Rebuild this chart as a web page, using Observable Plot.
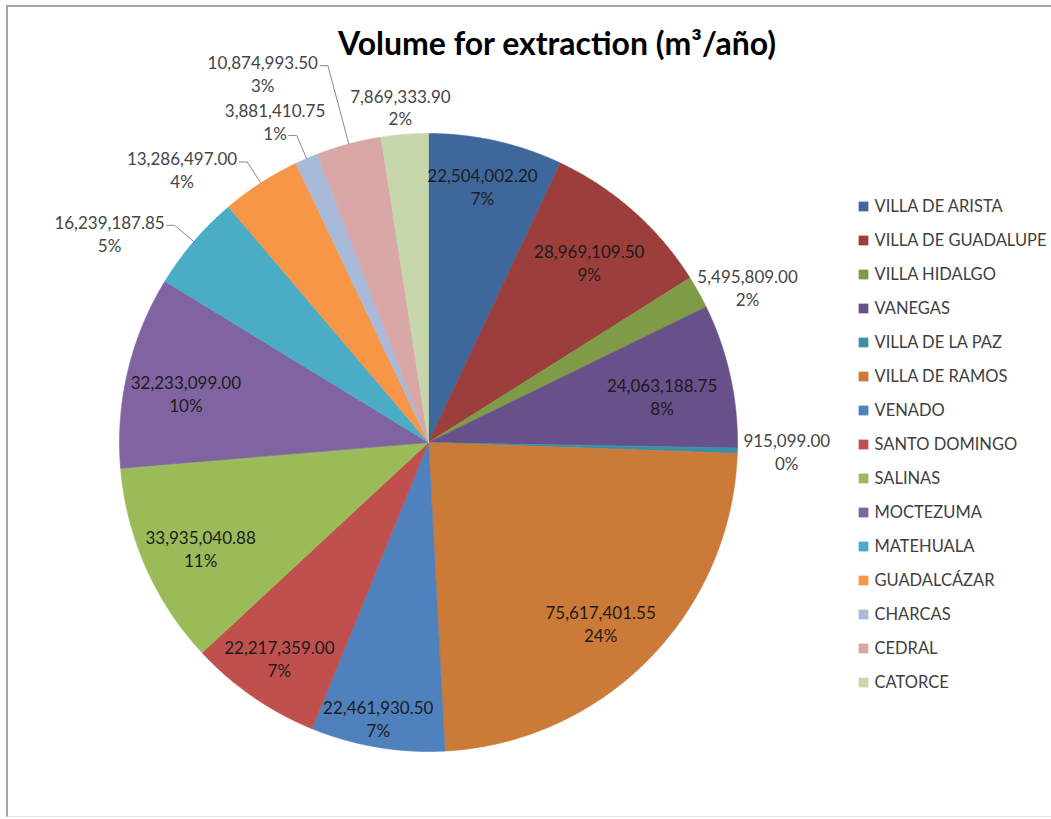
<!DOCTYPE html>
<html>
<head>
<meta charset="utf-8">
<script src="https://cdn.jsdelivr.net/npm/d3@7"></script>
<script src="https://cdn.jsdelivr.net/npm/@observablehq/plot@0.6"></script>
<style>
  body { margin: 0; background: #fff; }
  #chart { position: relative; width: 1051px; height: 819px; overflow: hidden; font-family: Lato, "Open Sans", sans-serif; }
  #frame { position: absolute; left: 6px; top: 5px; width: 1100px; height: 809px;
           border-top: 2px solid #a4a4a4; border-left: 2px solid #a4a4a4; border-bottom: 1px solid #e2e2e2; }
  #title { position: absolute; left: 0; width: 1114px; top: 23px; text-align: center;
           font-weight: bold; font-size: 32px; color: #000; font-family: Lato, sans-serif; }
  #pie, #legend { position: absolute; }
  #pie { left: 0; top: 0; }
  #legend { left: 850px; top: 180px; }
</style>
</head>
<body>
<div id="chart">
  <div id="pie"></div>
  <div id="legend"></div>
  <div id="frame"></div>
  <div id="title">Volume for extraction (m³/año)</div>
</div>
<script>
// Municipalities, in drawing order (clockwise from 12 o'clock)
const municipios = [
  "VILLA DE ARISTA", "VILLA DE GUADALUPE", "VILLA HIDALGO", "VANEGAS",
  "VILLA DE LA PAZ", "VILLA DE RAMOS", "VENADO", "SANTO DOMINGO",
  "SALINAS", "MOCTEZUMA", "MATEHUALA", "GUADALCÁZAR",
  "CHARCAS", "CEDRAL", "CATORCE"
];
// Volume for extraction, m³ per year
const volumenes = [
  22504002.20, 28969109.50, 5495809.00, 24063188.75,
  915099.00, 75617401.55, 22461930.50, 22217359.00,
  33935040.88, 32233099.00, 16239187.85, 13286497.00,
  3881410.75, 10874993.50, 7869333.90
];
const colores = [
  "#3e689c", "#9c3f3c", "#7f9b48", "#68508a", "#3b90a8",
  "#cc7a37", "#4f81bd", "#c0504d", "#9bbb59", "#8064a2",
  "#4bacc6", "#f79646", "#a9bad8", "#d9a7a6", "#c6d7ac"
];

// Layout of the pie on the page (pixels)
const CX = 428, CY = 442, R = 309;
const FS = 17, LINE = 23, HALF_H = 22;

const total = d3.sum(volumenes);
const fmt = d3.format(",.2f");
const arcs = d3.pie().sort(null).value(d => d)(volumenes);

// Wedge outlines in unit-circle coordinates
const wedges = arcs.flatMap((a, i) => {
  const n = Math.max(2, Math.ceil((a.endAngle - a.startAngle) / 0.004));
  const pts = [{name: municipios[i], x: 0, y: 0}];
  for (let k = 0; k <= n; k++) {
    const t = a.startAngle + (a.endAngle - a.startAngle) * k / n;
    pts.push({name: municipios[i], x: Math.sin(t), y: Math.cos(t)});
  }
  pts.push({name: municipios[i], x: 0, y: 0});
  return pts;
});

// Label text measurement
const ctx = document.createElement("canvas").getContext("2d");
ctx.font = `${FS}px Lato`;

const labels = arcs.map((a, i) => {
  const mid = (a.startAngle + a.endAngle) / 2;
  const val = fmt(volumenes[i]);
  const pct = Math.round(volumenes[i] / total * 100) + "%";
  return {
    i, name: municipios[i], mid, s: Math.sin(mid), c: Math.cos(mid),
    val, pct, share: volumenes[i] / total,
    wv: ctx.measureText(val).width, wp: ctx.measureText(pct).width
  };
});

// Positions are in pixels relative to the pie centre, y pointing down
const placed = [];
const leaders = [];
const overlaps = (b) => placed.some(p =>
  Math.abs(p.cx - b.cx) < (p.w + b.w) / 2 + 2 && Math.abs(p.cy - b.cy) < (p.h + b.h) / 2 + 2);

for (const L of labels) {
  if (L.share > 0.06) {
    // inside the slice, pulled in from the rim by the size of the text block
    const d = 6 + Math.abs(L.c) * HALF_H + Math.abs(L.s) * L.wv / 2;
    L.px = L.s * (R - d) - 5; L.py = -L.c * (R - d) + 7; L.inside = true;
  }
}
const outside = labels.filter(L => !L.inside);
// labels that sit next to their slice
for (const L of outside.filter(L => L.s >= -0.2)) {
  const rho = R + 6;
  L.px = L.s * rho + L.s * L.wv / 2;
  L.py = -L.c * rho - Math.pow(L.c, 3) * HALF_H;
  placed.push({cx: L.px, cy: L.py, w: L.wv, h: 2 * HALF_H});
}
// labels to the left, joined to their slice by a leader line
for (const L of outside.filter(L => L.s < -0.2).sort((a, b) => a.mid - b.mid)) {
  const base = R + 25;
  const tries = [["A", base], ["B", base]];
  for (let r = base + 2; r < base + 250; r += 2) tries.push(["A", r]);
  for (const [kind, rho] of tries) {
    const ex = L.s * rho, ey = -L.c * rho;
    const right = ex - 10;
    const box = kind === "A"
      ? {cx: right - L.wv / 2, cy: ey + 7.5}
      : {cx: right - L.wp / 2, cy: ey - 14.5};
    box.w = L.wv; box.h = 2 * HALF_H;
    if (!overlaps(box) || rho >= base + 248) {
      L.px = box.cx; L.py = box.cy;
      placed.push(box);
      const pts = [[L.s * R, -L.c * R], [ex, ey], [ex - 8, ey]];
      pts.forEach(([x, y]) => leaders.push({name: L.name, x: x / R, y: -y / R}));
      break;
    }
  }
}
labels.forEach(L => { L.x = L.px / R; L.y = -L.py / R; L.text = L.val + "\n" + L.pct; });

const pie = Plot.plot({
  width: 1051, height: 819, margin: 0,
  style: {background: "transparent", overflow: "visible"},
  x: {domain: [-1, 1], range: [CX - R, CX + R], axis: null},
  y: {domain: [-1, 1], range: [CY + R, CY - R], axis: null},
  color: {domain: municipios, range: colores},
  marks: [
    Plot.line(wedges, {x: "x", y: "y", z: "name", fill: "name", stroke: "name", strokeWidth: 0.6, curve: "linear"}),
    Plot.line(leaders, {x: "x", y: "y", z: "name", stroke: "#8a8a8a", strokeWidth: 1, curve: "linear"}),
    Plot.text(labels.filter(d => d.inside), {
      x: "x", y: "y", text: "text", fill: "#1c1c1c", fontSize: FS, fontFamily: "Lato",
      lineHeight: LINE / FS, lineAnchor: "middle", textAnchor: "middle"
    }),
    Plot.text(labels.filter(d => !d.inside), {
      x: "x", y: "y", text: "text", fill: "#454545", fontSize: FS, fontFamily: "Lato",
      lineHeight: LINE / FS, lineAnchor: "middle", textAnchor: "middle"
    })
  ]
});
document.getElementById("pie").append(pie);

const legend = Plot.plot({
  width: 201, height: 525, margin: 0,
  style: {background: "transparent", overflow: "visible"},
  y: {type: "point", domain: municipios, range: [21, 506], padding: 0, axis: null},
  color: {domain: municipios, range: colores},
  marks: [
    Plot.dot(municipios, {y: d => d, fill: d => d, symbol: "square", r: 5.5, frameAnchor: "left", dx: 13}),
    Plot.text(municipios, {y: d => d, text: d => d, frameAnchor: "left", dx: 24, textAnchor: "start",
      fontSize: 16.5, fontFamily: "Lato", fill: "#404040"})
  ]
});
document.getElementById("legend").append(legend);
</script>
</body>
</html>
